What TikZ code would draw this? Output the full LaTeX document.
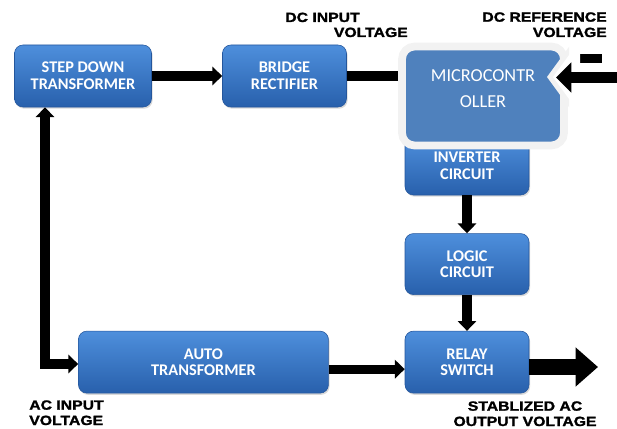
\documentclass[tikz,border=0pt]{standalone}
\usepackage{fontspec}
\setmainfont{Carlito}
\newfontfamily\lblfont[FakeStretch=1.18, FakeBold=1.6]{Liberation Sans}
\usetikzlibrary{arrows.meta,positioning,calc,shadows}
\definecolor{boxtop}{RGB}{78,143,220}
\definecolor{boxbot}{RGB}{40,96,172}
\definecolor{boxline}{RGB}{36,86,156}
\definecolor{mcfill}{RGB}{79,129,189}
\definecolor{mcrim}{RGB}{242,242,242}

\begin{document}
\begin{tikzpicture}[
  x=0.25mm, y=-0.25mm,
  >={Triangle[length=7pt,width=13pt]},
  every node/.style={inner sep=0pt},
  blk/.style={draw=boxline, line width=0.4pt, rounded corners=6pt,
              top color=boxtop, bottom color=boxbot,
              drop shadow={shadow xshift=0.8pt, shadow yshift=-1.2pt, opacity=0.3},
              text=white, align=center,
              font=\fontsize{11.6}{11.8}\selectfont\bfseries,
              minimum width=31mm, minimum height=15.5mm},
  mc/.style={fill=mcfill, draw=mcrim, line width=5.5pt, rounded corners=9pt,
             minimum width=40.5mm, minimum height=24.75mm},
  mctext/.style={text=white, align=center, font=\fontsize{13}{18.4}\selectfont},
  lbl/.style={font=\lblfont\fontsize{9.5}{10.9}\selectfont\bfseries},
  conn/.style={line width=6.5pt, ->},
  fat/.style={line width=11pt, -{Triangle[length=16pt,width=27pt]}},
]
\useasboundingbox (0,0) rectangle (617,428);

\node[blk, minimum width=34.25mm] (stepdown) at (83,76) {STEP DOWN\\TRANSFORMER};
\node[blk, right=17.6mm of stepdown] (bridge) {BRIDGE\\RECTIFIER};
\node[blk, minimum height=14.5mm] (inverter) at (467,166) {INVERTER\\CIRCUIT};
\node[blk, minimum height=15.25mm, below=9.5mm of inverter] (logic) {LOGIC\\CIRCUIT};
\node[blk, below=9mm of logic] (relay) {RELAY\\SWITCH};
\node[blk, minimum width=62.5mm, left=19mm of relay] (auto) {AUTO\\TRANSFORMER};

% microcontroller callout
\fill (573,54) rectangle (602,63);
\draw[conn, -] (bridge.east) -- (bridge.east -| 400,0);
\node[mc] (micro) at (483,96) {};
\begin{scope}
  \clip (398,42) rectangle (569,150);
  \fill[mcrim] (574,40) -- (547,77) -- (574,114) -- cycle;
\end{scope}
\fill[white] (580,40) -- (553,77) -- (580,114) -- cycle;
\node[mctext] (mctxt) at (483,89) {MICROCONTR\\OLLER};

\coordinate (reftail) at (625,77.5);
\coordinate (notch) at (556,77.5);
\coordinate (acin) at (45,364);
\coordinate (outtip) at (598,367);

\draw[conn] (stepdown) -- (bridge);
\draw[conn] (inverter) -- (logic);
\draw[conn] (logic) -- (relay);
\draw[conn] ([yshift=-5pt]auto.east) -- ([yshift=-5pt]relay.west);
\draw[conn, <->] (stepdown.south -| acin) -- (acin) -- (auto.west |- acin);
\draw[fat] (relay.east |- outtip) -- (outtip);
\draw[line width=8pt, -{Triangle[length=11pt,width=21pt]}] (reftail) -- (notch);

\node[lbl, anchor=base east] (dcin) at (360,22) {DC INPUT};
\node[lbl, anchor=base east] (dcinv) at (408,37) {VOLTAGE};
\node[lbl, anchor=base east, align=right] (dcref) at (607,37) {DC REFERENCE\\VOLTAGE};
\node[lbl, anchor=base west, align=left] (acinput) at (29,425) {AC INPUT\\VOLTAGE};
\node[lbl, anchor=base, align=center] (acout) at (525,426) {STABLIZED AC\\OUTPUT VOLTAGE};
\end{tikzpicture}
\end{document}
